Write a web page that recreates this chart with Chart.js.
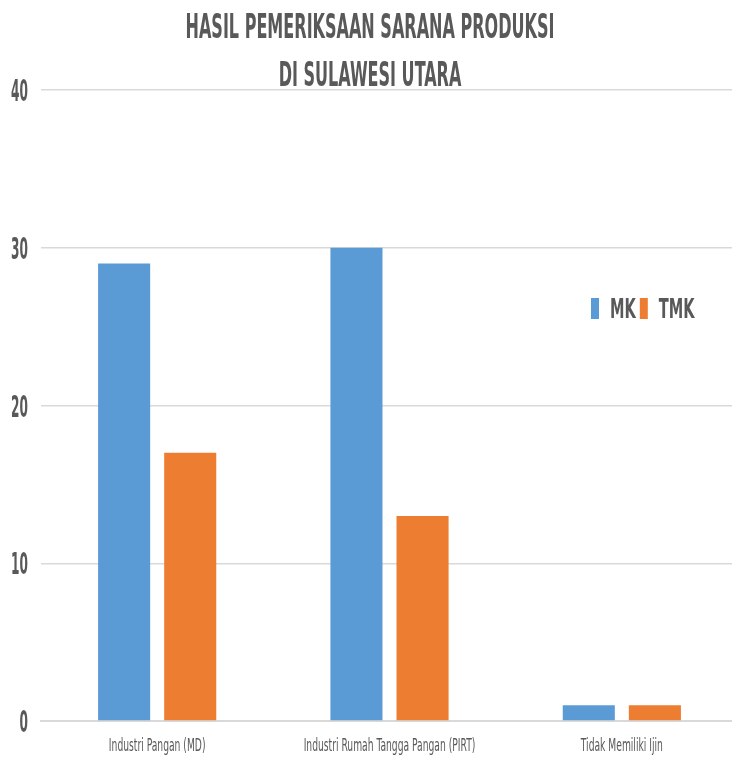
<!DOCTYPE html>
<html>
<head>
<meta charset="utf-8">
<script src="https://cdn.jsdelivr.net/npm/chart.js@4.4.1/dist/chart.umd.min.js"></script>
<style>
  html, body { margin: 0; padding: 0; background: #fff; overflow: hidden; }
  #wrap { width: 738px; height: 757px; }
</style>
</head>
<body>
<div id="wrap"><canvas id="chart"></canvas></div>
<script>
const categories = ['Industri Pangan (MD)', 'Industri Rumah Tangga Pangan (PIRT)', 'Tidak Memiliki Ijin'];
const mkValues = [29, 30, 1];
const tmkValues = [17, 13, 1];
const seriesLabels = ['MK', 'TMK'];
const titleLines = ['HASIL PEMERIKSAAN SARANA PRODUKSI', 'DI SULAWESI UTARA'];

const FONT = "'DejaVu Sans Condensed', 'DejaVu Sans', sans-serif";
const TEXT = '#595959';

// the original text is squeezed sideways, so all labels are drawn here with a horizontal scale
function squeezedText(ctx, text, x, y, align, sx) {
    ctx.save();
    ctx.translate(x, y);
    ctx.scale(sx, 1);
    ctx.textAlign = align;
    ctx.fillText(text, 0, 0);
    ctx.restore();
}

const overlay = {
    id: 'overlay',
    afterDraw(chart) {
        const ctx = chart.ctx;
        ctx.save();
        ctx.fillStyle = TEXT;
        ctx.textBaseline = 'alphabetic';

        // title
        ctx.font = 'bold 33px ' + FONT;
        squeezedText(ctx, titleLines[0], 370, 38, 'center', 0.54);
        squeezedText(ctx, titleLines[1], 370, 86, 'center', 0.54);

        // y tick labels
        const ys = chart.scales.y;
        ctx.font = 'bold 30px ' + FONT;
        ys.ticks.forEach(t => {
            squeezedText(ctx, String(t.value), 28, ys.getPixelForValue(t.value) + 11, 'right', 0.45);
        });

        // x tick labels
        const xs = chart.scales.x;
        ctx.font = '17px ' + FONT;
        chart.data.labels.forEach((lbl, i) => {
            squeezedText(ctx, lbl, xs.getPixelForTick(i), 751, 'center', 0.6);
        });

        // legend
        let x = 591;
        ctx.font = 'bold 27px ' + FONT;
        chart.data.datasets.forEach(ds => {
            ctx.fillStyle = ds.backgroundColor;
            ctx.fillRect(x, 298, 8, 21);
            x += 19;
            ctx.fillStyle = TEXT;
            squeezedText(ctx, ds.label, x, 318, 'left', 0.6);
            x += ctx.measureText(ds.label).width * 0.6 + 4;
        });
        ctx.restore();
    }
};

new Chart(document.getElementById('chart'), {
    type: 'bar',
    data: {
        labels: categories,
        datasets: [
            { label: seriesLabels[0], data: mkValues, backgroundColor: '#5b9bd5' },
            { label: seriesLabels[1], data: tmkValues, backgroundColor: '#ed7d31' }
        ]
    },
    options: {
        responsive: true,
        maintainAspectRatio: false,
        animation: false,
        categoryPercentage: 0.569,
        barPercentage: 0.788,
        layout: { padding: { top: 90, right: 0, bottom: 0, left: 0 } },
        plugins: {
            legend: { display: false },
            title: { display: false },
            tooltip: { enabled: false }
        },
        scales: {
            x: {
                grid: { display: false, drawTicks: false },
                border: { color: '#d9d9d9', width: 2 },
                ticks: { display: false },
                afterFit(scale) { scale.height = 36; }
            },
            y: {
                min: 0,
                max: 40,
                ticks: { display: false, stepSize: 10 },
                grid: { color: '#d9d9d9', lineWidth: 1.5, drawTicks: false },
                border: { display: false },
                afterFit(scale) { scale.width = 41; }
            }
        }
    },
    plugins: [overlay]
});
</script>
</body>
</html>
